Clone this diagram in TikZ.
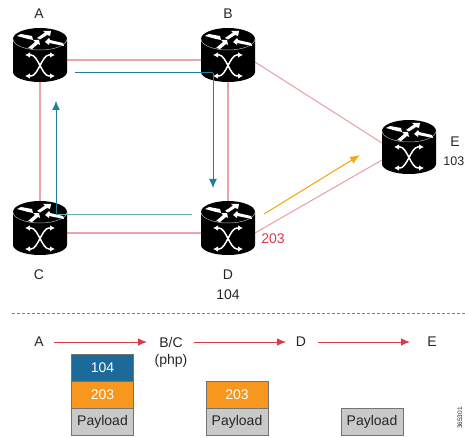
\documentclass[tikz,border=0pt]{standalone}
\usepackage{fontspec}
\setmainfont{Liberation Sans}
\usetikzlibrary{arrows.meta}
\definecolor{linkred}{HTML}{E9A3AB}
\definecolor{arrowred}{HTML}{D93A45}
\definecolor{teal1}{HTML}{1F7F9E}
\definecolor{teal2}{HTML}{68B0B4}
\definecolor{blue1}{HTML}{1B6A9A}
\definecolor{orange1}{HTML}{F7971E}
\definecolor{gray1}{HTML}{C9C9C9}
\tikzset{
  x=1pt,y=-1pt,
  every node/.style={font=\fontsize{14}{16}\selectfont,inner sep=0pt,text=black!85},
  routerbox/.style={minimum width=54pt,minimum height=54pt,inner sep=0pt,outer sep=0pt},
  link/.style={linkred,line width=1.1pt},
  tealline/.style={teal1,line width=1pt},
  tealarrow/.style={teal1,line width=1pt,-{Latex[length=9pt,width=8pt]}},
  hop/.style={arrowred,line width=.9pt,-{Latex[length=9pt,width=7.5pt]}},
  stackbox/.style={minimum width=62pt,minimum height=27pt,draw=black!55,line width=.6pt},
  router/.pic={
    \fill[black] (-27,-16) -- (-27,17) arc[start angle=180,end angle=0,x radius=27,y radius=10] -- (27,-16) arc[start angle=0,end angle=-180,x radius=27,y radius=11] -- cycle;
    \draw[white!70!black,line width=.5pt] (-27,-16) arc[start angle=180,end angle=0,x radius=27,y radius=11];
    % four streaks on the top face
    \fill[white] (-23,-19) -- (-19,-21) -- (-8,-19) -- (-7,-15) -- (-12,-16) -- cycle;
    \fill[white] (-3,-17) -- (0,-15.5) -- (7,-20) -- (10,-19) -- (11,-24) -- (3,-24) -- (5,-22.5) -- cycle;
    \fill[white] (-12,-7) -- (-8,-6) -- (-2,-11) -- (0,-10) -- (-1,-15) -- (-7,-15) -- (-5,-13) -- cycle;
    \fill[white] (5,-13) -- (9,-17) -- (10,-15) -- (23,-12) -- (24,-9) -- (9,-12) -- (9,-10) -- cycle;
    % crossing arrows on the body
    \draw[white,line width=1.5pt,{Latex[length=5pt,width=5.5pt]}-{Latex[length=5pt,width=5.5pt]}]
      (-15,0) -- (-9,0) .. controls (-2,0) and (2,21) .. (9,21) -- (15,21);
    \draw[white,line width=1.5pt,{Latex[length=5pt,width=5.5pt]}-{Latex[length=5pt,width=5.5pt]}]
      (15,0) -- (9,0) .. controls (2,0) and (-2,21) .. (-9,21) -- (-15,21);
  },
}
\begin{document}
\begin{tikzpicture}
\useasboundingbox (0,0) rectangle (465,438);
\node[routerbox] (A) at (40,55) {};
\node[routerbox] (B) at (228,55) {};
\node[routerbox] (C) at (40,228) {};
\node[routerbox] (D) at (228,228) {};
\node[routerbox] (E) at (409,147) {};
% links (canvas shifts: positive yshift is up the page)
\draw[link] ([yshift=-5pt]A.east) -- ([yshift=-5pt]B.west);
\draw[link] (C.north) -- (A.south);
\draw[link] (B.south) -- (D.north);
\draw[link] ([yshift=-5pt]C.east) -- ([yshift=-5pt]D.west);
\draw[link] ([yshift=-7pt]B.east) -- ([yshift=4pt]E.west);
\draw[link] ([yshift=-5pt]D.east) -- ([yshift=-13pt]E.west);
% routers
\foreach \n in {A,B,C,D,E} \path (\n.center) pic {router};
% teal paths
\coordinate (t1) at ([xshift=16pt,yshift=13.5pt]C.center);
\coordinate (t2) at ([xshift=-36pt,yshift=13.5pt]D.center);
\coordinate (t3) at ([xshift=16pt,yshift=-46pt]A.center);
\coordinate (t4) at ([xshift=35pt,yshift=-18pt]A.center);
\coordinate (t5) at ([xshift=-15pt,yshift=-18pt]B.center);
\coordinate (t6) at ([xshift=-15pt,yshift=40pt]D.center);
\draw[teal2,line width=1pt] (t1) -- (t2);
\draw[tealarrow] (t1) -- (t3);
\draw[tealline] (t4) -- (t5);
\draw[tealarrow] (t5) -- (t6);
% orange
\coordinate (o1) at (264,214);
\coordinate (o2) at (360,155);
\draw[orange1!85!yellow,line width=1.1pt,-{Latex[length=10pt,width=8pt]}] (o1) -- (o2);
% labels
\node (la) at (39,14) {A};
\node (lb) at (228,14) {B};
\node (lc) at (39,275) {C};
\node (ld) at (228,275) {D};
\node (n104) at (228,295) {104};
\node (le) at (455,142) {E};
\node[anchor=east,font=\fontsize{12.5}{14}\selectfont] (n103) at (464.5,161) {103};
\node[text=arrowred] (n203) at (273,239) {203};
% separator
\coordinate (s1) at (12,313);
\coordinate (s2) at (465,313);
\draw[black!50,line width=.9pt,dash pattern=on 3pt off 2pt] (s1) -- (s2);
% hop line
\node (ha) at (39,342) {A};
\node (hb) at (171,342) {B/C};
\node (hp) at (171,361) {(php)};
\node (hd) at (301,342) {D};
\node (he) at (432,342) {E};
\draw[hop] (54,342) -- (147,342);
\draw[hop] (194,342) -- (286,342);
\draw[hop] (318,342) -- (410,342);
% stacks
\node[stackbox,fill=blue1,text=white] (s104) at (102.5,367.5) {104};
\node[stackbox,fill=orange1,text=white] (s203) at (102.5,394.5) {203};
\node[stackbox,fill=gray1] (sp1) at (102.5,421.5) {Payload};
\node[stackbox,fill=orange1,text=white] (s203b) at (237,394.5) {203};
\node[stackbox,fill=gray1] (sp2) at (237,421.5) {Payload};
\node[stackbox,fill=gray1] (sp3) at (372,421.5) {Payload};
\node[rotate=90,font=\fontsize{6.5}{7}\selectfont] (code) at (460,418) {365301};
\end{tikzpicture}
\end{document}
